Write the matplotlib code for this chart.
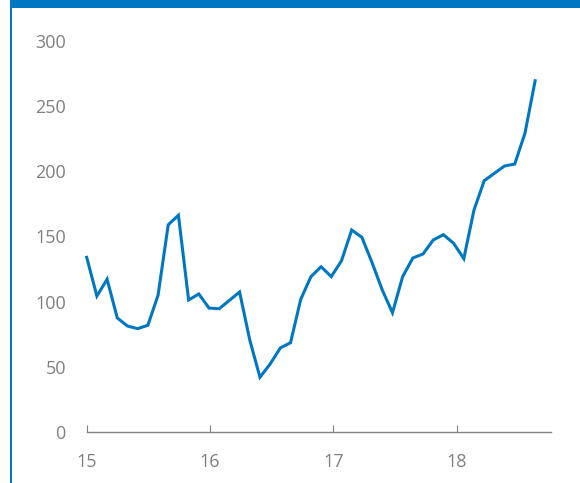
import matplotlib
matplotlib.use("Agg")
import matplotlib.pyplot as plt
from matplotlib.patches import Rectangle

# Monthly data, Jan 2015 .. Sep 2018
values = [134, 104.3, 117.2, 87.5, 81.3, 79.3, 81.9, 104.9, 159, 166.3, 101.3, 105.9,
          95.1, 94.6, 101, 107.4, 70.6, 42, 52.2, 64.5, 68.5, 101.8, 119.2, 126.8,
          119.2, 131.4, 155, 149.4, 129.9, 109, 91.5, 119.2, 133.5, 136.6, 147.3, 151.4,
          144.8, 133, 170.3, 192.8, 198.5, 204.1, 205.6, 229.2, 269.5]
start_year = 15
x_ticks = [15, 16, 17, 18]
x_labels = ["15", "16", "17", "18"]
y_ticks = [0, 50, 100, 150, 200, 250, 300]
y_labels = ["0", "50", "100", "150", "200", "250", "300"]

x = [start_year + i / 12.1 for i in range(len(values))]

plt.rcParams['font.family'] = ['Open Sans', 'DejaVu Sans']
blue = '#0077c1'
gray = '#808080'

fig = plt.figure(figsize=(5.8, 4.83), dpi=100)
fig.patch.set_facecolor('white')
ax = fig.add_axes([86.7 / 580, (483 - 432) / 483, (551 - 86.7) / 580, (432 - 41) / 483])
ax.plot(x, values, color=blue, lw=2.2, solid_joinstyle='miter', clip_on=False)
ax.set_xlim(15, 18.765)
ax.set_ylim(0, 300)
for s in ['top', 'right', 'left']:
    ax.spines[s].set_visible(False)
ax.spines['bottom'].set_color(gray)
ax.spines['bottom'].set_linewidth(1.0)
ax.set_xticks(x_ticks)
ax.set_xticklabels(x_labels)
ax.set_yticks(y_ticks)
ax.set_yticklabels(y_labels)
ax.tick_params(axis='x', direction='in', length=5, width=0.8, color=gray,
               labelcolor=gray, labelsize=13, pad=15)
ax.tick_params(axis='y', length=0, labelcolor=gray, labelsize=13, pad=15)
ax.patch.set_alpha(0)

# header bar and left border
fig.add_artist(Rectangle((10 / 580, 1 - 8 / 483), 570 / 580, 8 / 483,
                         transform=fig.transFigure, color=blue, lw=0))
fig.add_artist(Rectangle((10 / 580, 0), 2.2 / 580, 1,
                         transform=fig.transFigure, color=blue, lw=0))

fig.savefig('out.png', dpi=100)
